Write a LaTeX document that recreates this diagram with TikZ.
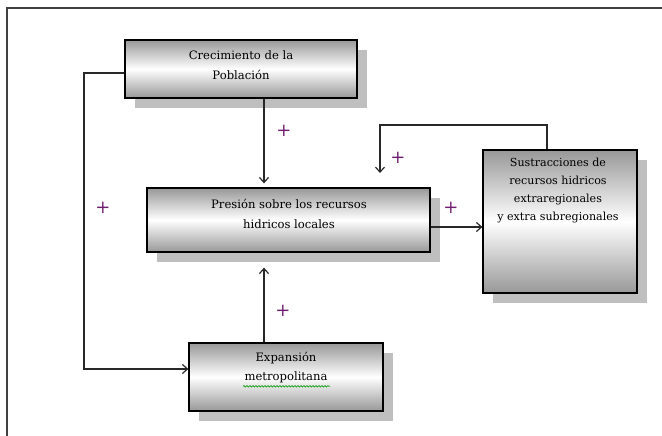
\documentclass[tikz,border=0pt]{standalone}
\usepackage{fontspec}
\setmainfont{DejaVu Serif}
\usetikzlibrary{arrows.meta,shadows,decorations.pathmorphing}
\definecolor{plusc}{RGB}{112,30,112}
\definecolor{shade}{RGB}{152,152,152}
\definecolor{lnc}{RGB}{40,40,40}
\tikzset{
  box/.style={draw=black, line width=1.3pt, rectangle, inner sep=0pt,
    top color=shade, bottom color=shade, middle color=white,
    general shadow={fill=gray!50, shadow xshift=10pt, shadow yshift=-10pt}},
  boxtext/.style={font=\fontsize{11.6}{19.5}\selectfont, align=center, inner sep=0pt, text=black},
  conn/.style={draw=lnc, line width=1.2pt},
  arr/.style={conn, -{Straight Barb[length=5pt,width=9pt,line width=1.2pt]}},
  plus/.style={text=plusc, font=\fontsize{18}{18}\selectfont, inner sep=0pt}
}
\begin{document}
\begin{tikzpicture}[x=1pt,y=-1pt]
\useasboundingbox (0,0) rectangle (662,436);
% outer frame (top and left edges)
\draw[black!75, line width=1.5pt] (662,8) -- (7,8) -- (7,436);

% boxes
\node[box, minimum width=232pt, minimum height=58pt] (crec) at (241,69) {};
\node[box, minimum width=283pt, minimum height=64pt] (pres) at (288.5,220) {};
\node[box, minimum width=154pt, minimum height=143pt] (sust) at (560,221.5) {};
\node[box, minimum width=194pt, minimum height=68pt] (expa) at (286,377) {};

% box texts
\node[boxtext] (crect) at (241,65) {Crecimiento de la\\Población};
\node[boxtext] (prest) at (289,214) {Presión sobre los recursos\\hidricos locales};
\node[boxtext, font=\fontsize{11.1}{18}\selectfont] (sustt) at (558,191)
  {Sustracciones de\\recursos hidricos\\extraregionales\\y extra subregionales};
\node[boxtext] (expat) at (286,367.5) {Expansión\\metropolitana};
% spell-check style underline
\draw[green!60!black, line width=0.6pt, decorate,
  decoration={snake, amplitude=0.8pt, segment length=3pt}]
  ([yshift=-3pt]expat.south west -| 243,0) -- ([yshift=-3pt]expat.south west -| 330,0);

% connector helpers
\coordinate (vx) at (264,0);
\coordinate (lc) at (84,73);
\coordinate (ltop) at (547,125);
\coordinate (lend) at (380,173);

% connectors
\draw[arr] (crec.west |- lc) -- (lc) |- ([yshift=8pt]expa.west);
\draw[arr, shorten >=4pt] (crec.south -| vx) -- (pres.north -| vx);
\draw[arr, shorten >=15pt] (expa.north -| vx) -- (pres.south -| vx);
\draw[arr] ([yshift=-7pt]pres.east) -- ([yshift=-7pt]pres.east -| sust.west);
\draw[arr] (sust.north -| ltop) -- (ltop) -| (lend);

% signs
\node[plus] (p1) at (284,131) {+};
\node[plus] (p2) at (103,208) {+};
\node[plus] (p3) at (398,158) {+};
\node[plus] (p4) at (451,208) {+};
\node[plus] (p5) at (283,311) {+};
\end{tikzpicture}
\end{document}
